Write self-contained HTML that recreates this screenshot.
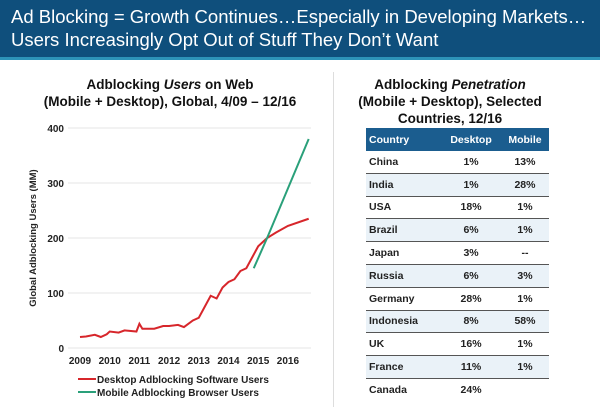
<!DOCTYPE html>
<html><head><meta charset="utf-8"><style>
body{margin:0;width:600px;height:415px;background:#fff;font-family:"Liberation Sans","Noto Sans CJK SC",sans-serif;position:relative;overflow:hidden}
.hdr{position:absolute;left:0;top:0;width:600px;height:57px;background:#0f4f7c;border-bottom:3px solid #2d93b8}
.hdr div{color:#fff;font-size:18.5px;position:absolute;left:11px;line-height:22px;white-space:nowrap}
.ttl{position:absolute;text-align:center;font-weight:bold;font-size:13.5px;line-height:17px;color:#111}
table{position:absolute;left:366px;top:128px;width:183px;border-collapse:collapse;font-size:10.5px;font-weight:bold;color:#222}
td,th{height:21.8px;padding:0;text-align:center;border-bottom:1px solid #555;line-height:12px}
th{background:#1b5d8f;color:#fff;border:none;height:23px}
td:first-child,th:first-child{text-align:left;padding-left:3px}
tr:nth-child(odd) td{background:#eaf2f8}
tr:last-child td{border-bottom:none}
</style></head><body>
<div class="hdr">
<div style="top:6px">Ad Blocking = Growth Continues…Especially in Developing Markets…</div>
<div style="top:29px">Users Increasingly Opt Out of Stuff They Don’t Want</div>
</div>
<div style="position:absolute;left:333px;top:72px;width:1px;height:335px;background:#ddd"></div>
<div class="ttl" style="left:20px;width:300px;top:76px">Adblocking <i>Users</i> on Web<br>(Mobile + Desktop), Global, 4/09 – 12/16</div>
<div class="ttl" style="left:350px;width:200px;top:76px">Adblocking <i>Penetration</i><br>(Mobile + Desktop), Selected<br>Countries, 12/16</div>
<svg id="chart" width="600" height="415" style="position:absolute;left:0;top:0"></svg>
<table>
<tr><th>Country</th><th>Desktop</th><th>Mobile</th></tr>
<tr><td>China</td><td>1%</td><td>13%</td></tr>
<tr><td>India</td><td>1%</td><td>28%</td></tr>
<tr><td>USA</td><td>18%</td><td>1%</td></tr>
<tr><td>Brazil</td><td>6%</td><td>1%</td></tr>
<tr><td>Japan</td><td>3%</td><td>--</td></tr>
<tr><td>Russia</td><td>6%</td><td>3%</td></tr>
<tr><td>Germany</td><td>28%</td><td>1%</td></tr>
<tr><td>Indonesia</td><td>8%</td><td>58%</td></tr>
<tr><td>UK</td><td>16%</td><td>1%</td></tr>
<tr><td>France</td><td>11%</td><td>1%</td></tr>
<tr><td>Canada</td><td>24%</td><td></td></tr>
</table>
<script>
const yTicks=[0,100,200,300,400];
const xTicks=[2009,2010,2011,2012,2013,2014,2015,2016];
const desktopX=[2009.0,2009.2,2009.5,2009.7,2009.9,2010.0,2010.3,2010.5,2010.9,2011.0,2011.1,2011.5,2011.8,2012.0,2012.3,2012.5,2012.8,2013.0,2013.2,2013.4,2013.6,2013.8,2014.0,2014.2,2014.4,2014.6,2014.8,2015.0,2015.3,2015.6,2016.0,2016.7];
const desktopY=[20,21,24,20,25,30,28,32,30,44,35,35,40,40,42,38,50,55,75,95,90,110,120,125,140,145,165,185,200,210,222,235];
const mobileX=[2014.85,2015.3,2016.0,2016.7];
const mobileY=[145,200,290,380];
const svg=document.getElementById('chart');
const NS='http://www.w3.org/2000/svg';
const X=v=>80+(v-2009)*29.7;
const Y=v=>348-v*0.55;
function mk(t,a){const e=document.createElementNS(NS,t);for(const k in a)e.setAttribute(k,a[k]);svg.appendChild(e);return e;}
yTicks.forEach(t=>{
 const g=mk('line',{x1:68,x2:311,y1:Y(t),y2:Y(t),stroke:'#e6e6e6','stroke-width':1});
 
 
 const l=mk('text',{x:64,y:Y(t)+4,'text-anchor':'end','font-size':'10','font-weight':'bold',fill:'#222'});
 l.textContent=t;
 
 
});
xTicks.forEach(t=>{
 const l=mk('text',{x:X(t),y:364,'text-anchor':'middle','font-size':'10','font-weight':'bold',fill:'#222'});
 l.textContent=t;
 
 
});
const yt=mk('text',{x:0,y:0,transform:'translate(36,238) rotate(-90)','text-anchor':'middle','font-size':'9.5','font-weight':'bold',fill:'#222'});
yt.textContent='Global Adblocking Users (MM)';


const d=mk('polyline',{points:desktopX.map((x,i)=>X(x)+','+Y(desktopY[i])).join(' '),fill:'none',stroke:'#d7262b','stroke-width':2});


const m=mk('polyline',{points:mobileX.map((x,i)=>X(x)+','+Y(mobileY[i])).join(' '),fill:'none',stroke:'#2aa07a','stroke-width':2});


[['Desktop Adblocking Software Users','#d7262b',379,'legend-desktop'],['Mobile Adblocking Browser Users','#2aa07a',392,'legend-mobile']].forEach(r=>{
 const ln=mk('line',{x1:78,x2:96,y1:r[2],y2:r[2],stroke:r[1],'stroke-width':2});
 
 
 const tx=mk('text',{x:97,y:r[2]+4,'font-size':'10','font-weight':'bold',fill:'#222'});
 tx.textContent=r[0];
 
 
});
</script>
</body></html>
